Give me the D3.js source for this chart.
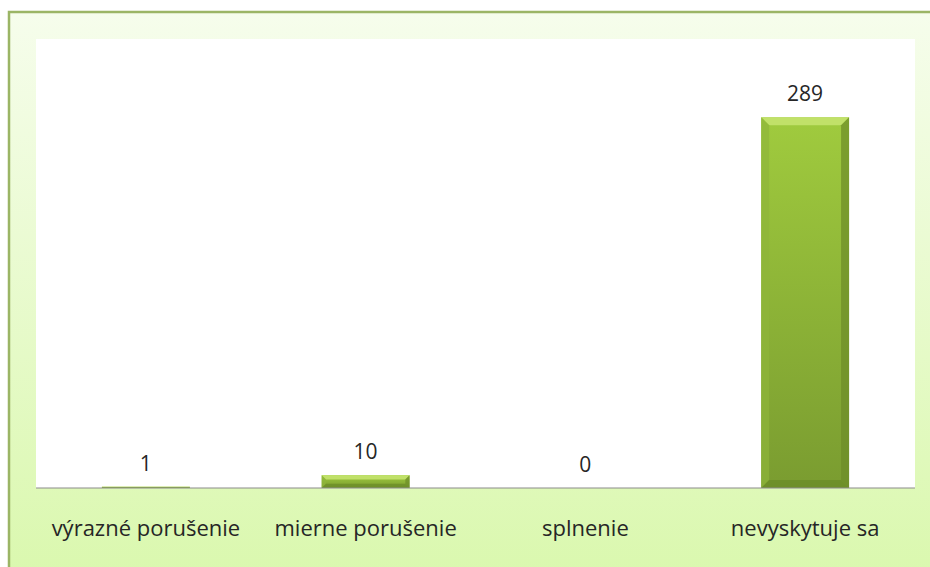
<!DOCTYPE html>
<html>
<head>
<meta charset="utf-8">
<script src="https://cdn.jsdelivr.net/npm/d3@7"></script>
<style>
  body { margin: 0; background: #ffffff; }
  text { font-family: "Open Sans", Lato, sans-serif; fill: #262626; }
</style>
</head>
<body>
<script>
// chart data:
var categories = ["výrazné porušenie", "mierne porušenie", "splnenie", "nevyskytuje sa"];
var values = [1, 10, 0, 289];
var yMax = 350;

var w = 930, h = 567;

var svg = d3.select("body").append("svg")
    .attr("width", w)
    .attr("height", h);

var defs = svg.append("defs");

// frame background gradient
var bg = defs.append("linearGradient").attr("id", "bg")
    .attr("x1", 0).attr("y1", 0).attr("x2", 0).attr("y2", 1);
bg.append("stop").attr("offset", "0%").attr("stop-color", "#f6fdec");
bg.append("stop").attr("offset", "100%").attr("stop-color", "#daf8ae");

// bar face gradient
var face = defs.append("linearGradient").attr("id", "face")
    .attr("x1", 0).attr("y1", 0).attr("x2", 0).attr("y2", 1);
face.append("stop").attr("offset", "0%").attr("stop-color", "#a0cb3e");
face.append("stop").attr("offset", "100%").attr("stop-color", "#7a9c30");

// outer frame
svg.append("rect")
    .attr("x", 9).attr("y", 12)
    .attr("width", w).attr("height", h)
    .attr("fill", "url(#bg)")
    .attr("stroke", "#9bb565")
    .attr("stroke-width", 2.5);

// plot area
var plot = { left: 36, top: 39, right: 915, bottom: 488 };

svg.append("rect")
    .attr("x", plot.left).attr("y", plot.top)
    .attr("width", plot.right - plot.left)
    .attr("height", plot.bottom - plot.top)
    .attr("fill", "#ffffff");

var x = d3.scaleBand()
    .domain(categories)
    .range([plot.left, plot.right])
    .paddingInner(0.6)
    .paddingOuter(0.3);

var y = d3.scaleLinear()
    .domain([0, yMax])
    .range([plot.bottom, plot.top]);

// bars with bevel
var bars = svg.selectAll(".bar")
    .data(values)
    .enter()
    .append("g")
    .attr("class", "bar");

bars.each(function(d, i){
    var g = d3.select(this);
    var x0 = x(categories[i]), bw = x.bandwidth();
    var y0 = y(d), y1 = y(0);
    var bh = y1 - y0;
    if (bh <= 0) return;
    g.append("rect")
        .attr("x", x0).attr("y", y0)
        .attr("width", bw).attr("height", bh)
        .attr("fill", "url(#face)");
    var b = Math.min(8, bh / 3);
    // top bevel (light)
    g.append("polygon")
        .attr("points", [[x0, y0], [x0 + bw, y0], [x0 + bw - b, y0 + b], [x0 + b, y0 + b]].join(" "))
        .attr("fill", "#c4e36e").attr("opacity", 0.9);
    // left bevel
    g.append("polygon")
        .attr("points", [[x0, y0], [x0 + b, y0 + b], [x0 + b, y1 - b], [x0, y1]].join(" "))
        .attr("fill", "#8fb53a").attr("opacity", 0.7);
    // right bevel (dark)
    g.append("polygon")
        .attr("points", [[x0 + bw, y0], [x0 + bw - b, y0 + b], [x0 + bw - b, y1 - b], [x0 + bw, y1]].join(" "))
        .attr("fill", "#6c8c28").attr("opacity", 0.7);
    // bottom bevel
    g.append("polygon")
        .attr("points", [[x0, y1], [x0 + b, y1 - b], [x0 + bw - b, y1 - b], [x0 + bw, y1]].join(" "))
        .attr("fill", "#6a8a26").attr("opacity", 0.7);
});

// x axis line
var xAxis = d3.axisBottom(x).tickSize(0).tickPadding(32);
var axis = svg.append("g")
    .attr("transform", "translate(0," + plot.bottom + ")")
    .call(xAxis);
axis.select(".domain")
    .attr("stroke", "#8c8c8c")
    .attr("stroke-width", 1.2)
    .attr("d", "M" + plot.left + ",0H" + plot.right);
axis.selectAll(".tick text")
    .style("font-size", "22px")
    .style("fill", "#262626")
    .style("font-family", "'Open Sans', Lato, sans-serif");

// value labels
svg.selectAll(".value")
    .data(values)
    .enter()
    .append("text")
    .attr("class", "value")
    .attr("text-anchor", "middle")
    .attr("x", function(d, i){ return x(categories[i]) + x.bandwidth() / 2; })
    .attr("y", function(d){ return y(d) - 16; })
    .style("font-size", "21px")
    .text(function(d){ return d; });
</script>
</body>
</html>
